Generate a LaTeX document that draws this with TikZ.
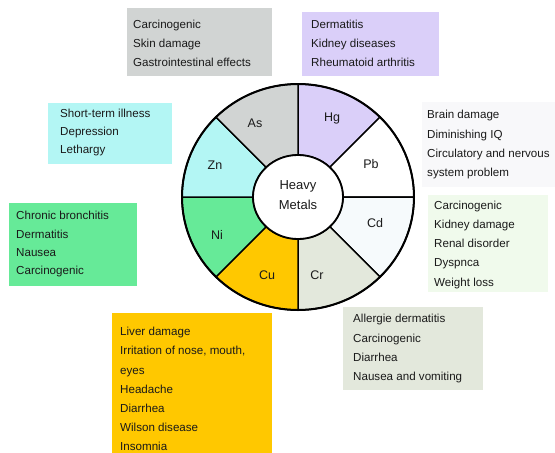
\documentclass[tikz,border=0pt]{standalone}
\usepackage{fontspec}
\setmainfont{Liberation Sans}
\definecolor{asc}{HTML}{D1D4D3}
\definecolor{hgc}{HTML}{DACFF9}
\definecolor{pbc}{HTML}{F8F8FA}
\definecolor{cdc}{HTML}{F0FAEC}
\definecolor{cdsec}{HTML}{F6FAFC}
\definecolor{crc}{HTML}{E3E8DC}
\definecolor{cuc}{HTML}{FFC800}
\definecolor{nic}{HTML}{66EA98}
\definecolor{znc}{HTML}{B3F6F4}
\definecolor{txc}{HTML}{1A1A1A}
\tikzset{
  boxnode/.style={draw=none, inner sep=0pt, anchor=north west},
  txt/.style={inner sep=0pt, anchor=west, align=left, text=txc,
    font=\fontsize{11.6}{19.2}\selectfont},
  seclabel/.style={inner sep=0pt, text=txc, font=\fontsize{12.5}{14}\selectfont},
  wheelline/.style={draw=black, line width=1.5pt}
}
\newcommand{\sector}[3]{%
  \filldraw[fill=#3, wheelline]
    (#1:45pt and 42pt) -- (#1:116pt and 113pt)
    arc[start angle=#1, end angle=#2, x radius=116pt, y radius=113pt]
    -- (#2:45pt and 42pt)
    arc[start angle=#2, end angle=#1, x radius=45pt, y radius=42pt] -- cycle;}
\begin{document}
\begin{tikzpicture}[x=1pt,y=-1pt]
\useasboundingbox (0,0) rectangle (555,453);
\clip (0,0) rectangle (555,453);
% boxes
\node[boxnode, fill=asc, minimum width=145pt, minimum height=68pt] (asB) at (127,8) {};
\node[boxnode, fill=hgc, minimum width=137pt, minimum height=64pt] (hgB) at (302,12) {};
\node[boxnode, fill=znc, minimum width=124pt, minimum height=61pt] (znB) at (48,103) {};
\node[boxnode, fill=pbc, minimum width=140pt, minimum height=85pt] (pbB) at (422,102) {};
\node[boxnode, fill=nic, minimum width=128pt, minimum height=83pt] (niB) at (9,203) {};
\node[boxnode, fill=cdc, minimum width=120pt, minimum height=97pt] (cdB) at (428,195) {};
\node[boxnode, fill=cuc, minimum width=160pt, minimum height=150pt] (cuB) at (112,313) {};
\node[boxnode, fill=crc, minimum width=140pt, minimum height=83pt] (crB) at (343,307) {};
% box texts
\node[txt] (asT) at ([xshift=6pt,yshift=-1pt]asB.west) {Carcinogenic\\Skin damage\\Gastrointestinal effects};
\node[txt] (hgT) at ([xshift=9pt,yshift=1pt]hgB.west) {Dermatitis\\Kidney diseases\\Rheumatoid arthritis};
\node[txt, font=\fontsize{11.6}{18.4}\selectfont] (znT) at ([xshift=12pt,yshift=1.2pt]znB.west) {Short-term illness\\Depression\\Lethargy};
\node[txt] (pbT) at ([xshift=5pt,yshift=0pt]pbB.west) {Brain damage\\Diminishing IQ\\Circulatory and nervous\\system problem};
\node[txt, font=\fontsize{11.6}{18.4}\selectfont] (niT) at ([xshift=7pt,yshift=0.5pt]niB.west) {Chronic bronchitis\\Dermatitis\\Nausea\\Carcinogenic};
\node[txt] (cdT) at ([xshift=6pt,yshift=-1pt]cdB.west) {Carcinogenic\\Kidney damage\\Renal disorder\\Dyspnca\\Weight loss};
\node[txt] (cuT) at ([xshift=8pt,yshift=-1pt]cuB.west) {Liver damage\\Irritation of nose, mouth,\\eyes\\Headache\\Diarrhea\\Wilson disease\\Insomnia};
\node[txt] (crT) at ([xshift=10pt,yshift=0pt]crB.west) {Allergie dermatitis\\Carcinogenic\\Diarrhea\\Nausea and vomiting};
% wheel
\begin{scope}[shift={(298,197)}]
\sector{45}{90}{hgc}
\sector{0}{45}{white}
\sector{-45}{0}{cdsec}
\sector{-90}{-45}{crc}
\sector{-135}{-90}{cuc}
\sector{-180}{-135}{nic}
\sector{135}{180}{znc}
\sector{90}{135}{asc}
\draw[line width=2pt] (0pt,0pt) ellipse[x radius=116pt, y radius=113pt];
\filldraw[fill=white, line width=1.8pt] (0pt,0pt) ellipse[x radius=45pt, y radius=42pt];
\end{scope}
\node[seclabel, align=center, font=\fontsize{13}{20}\selectfont] (hm) at (298,195.5) {Heavy\\Metals};
\node[seclabel] (as) at (255,123) {As};
\node[seclabel] (hg) at (332,118) {Hg};
\node[seclabel] (pb) at (371,164) {Pb};
\node[seclabel] (cd) at (375,223) {Cd};
\node[seclabel] (cr) at (317,275) {Cr};
\node[seclabel] (cu) at (267,275) {Cu};
\node[seclabel] (ni) at (217,235) {Ni};
\node[seclabel] (zn) at (215,165) {Zn};
\end{tikzpicture}
\end{document}
